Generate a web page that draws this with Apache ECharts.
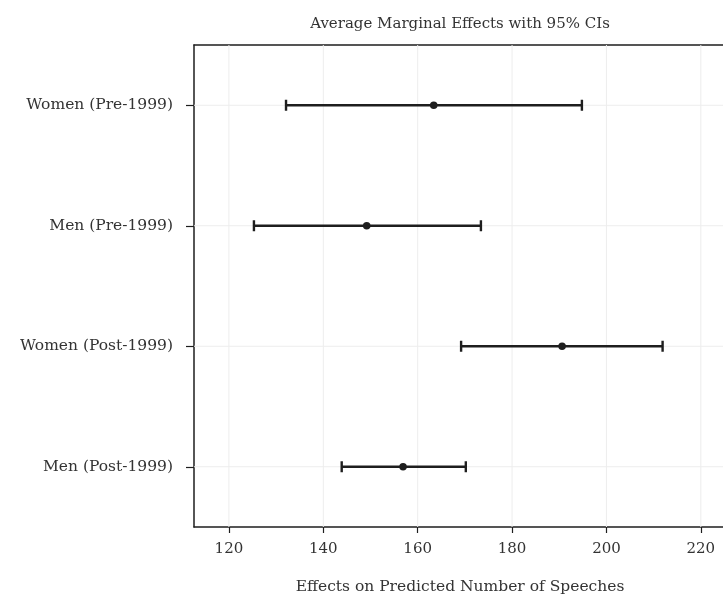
<!DOCTYPE html>
<html>
<head>
<meta charset="utf-8">
<script src="https://cdn.jsdelivr.net/npm/echarts@6/dist/echarts.min.js"></script>
<style>
  html, body { margin: 0; padding: 0; background: #fff; }
  #chart { width: 723px; height: 600px; }
</style>
</head>
<body>
<div id="chart"></div>
<script>
// Groups, top to bottom
const groups = ['Women (Pre-1999)', 'Men (Pre-1999)', 'Women (Post-1999)', 'Men (Post-1999)'];
// Average marginal effects and 95% confidence bounds
const estimate = [163.4, 149.2, 190.6, 156.9];
const lower = [132.1, 125.3, 169.2, 143.9];
const upper = [194.8, 173.4, 211.9, 170.2];
// x-axis ticks
const xTicks = [120, 140, 160, 180, 200, 220];

const FONT = 'DejaVu Serif';
const INK = '#1e1e1e';
const TEXT = '#333';

const ciData = groups.map((g, i) => [g, lower[i], upper[i]]);
const pointData = groups.map((g, i) => [estimate[i], g]);

const chart = echarts.init(document.getElementById('chart'), null, { renderer: 'canvas' });
chart.setOption({
  animation: false,
  backgroundColor: '#fff',
  title: [
    {
      text: 'Average Marginal Effects with 95% CIs',
      left: 455, top: 12, textAlign: 'center',
      textStyle: { fontFamily: FONT, fontSize: 15, fontWeight: 'normal', color: TEXT }
    },
    {
      text: 'Effects on Predicted Number of Speeches',
      left: 455, top: 574, textAlign: 'center',
      textStyle: { fontFamily: FONT, fontSize: 15.5, fontWeight: 'normal', color: TEXT }
    }
  ],
  grid: {
    left: 194, top: 45, right: 0, bottom: 73,
    show: false
  },
  xAxis: [
    {
      type: 'value',
      min: 112.6, max: 224.7,
      axisLine: { show: true, lineStyle: { color: INK, width: 1.5 } },
      axisTick: {
        show: true, length: 6, lineStyle: { color: INK, width: 1.2 },
        customValues: xTicks
      },
      axisLabel: {
        fontFamily: FONT, fontSize: 15, color: TEXT, margin: 15,
        customValues: xTicks
      },
      splitLine: { show: false }
    },
    {
      // top edge of the plot frame
      type: 'value',
      position: 'top',
      min: 112.6, max: 224.7,
      axisLine: { show: true, onZero: false, lineStyle: { color: INK, width: 1.5 } },
      axisTick: { show: false },
      axisLabel: { show: false },
      splitLine: { show: false }
    }
  ],
  yAxis: {
    type: 'category',
    data: groups,
    inverse: true,
    axisLine: { show: true, lineStyle: { color: INK, width: 1.5 } },
    axisTick: { show: true, alignWithLabel: true, length: 8, lineStyle: { color: INK, width: 1.2 } },
    axisLabel: { fontFamily: FONT, fontSize: 15.5, color: TEXT, margin: 21 },
    splitLine: { show: false }
  },
  series: [
    {
      // faint reference grid drawn behind the intervals
      type: 'custom',
      silent: true,
      z: 1,
      data: [0],
      renderItem: function (params, api) {
        const cs = params.coordSys;
        const children = [];
        xTicks.forEach(function (t) {
          const x = api.coord([t, groups[0]])[0];
          children.push({
            type: 'line',
            shape: { x1: x, y1: cs.y, x2: x, y2: cs.y + cs.height },
            style: { stroke: '#ededed', lineWidth: 1 }
          });
        });
        groups.forEach(function (g) {
          const y = api.coord([xTicks[0], g])[1];
          children.push({
            type: 'line',
            shape: { x1: cs.x, y1: y, x2: cs.x + cs.width, y2: y },
            style: { stroke: '#ededed', lineWidth: 1 }
          });
        });
        return { type: 'group', children: children };
      }
    },
    {
      // confidence intervals with end caps
      type: 'custom',
      z: 3,
      data: ciData,
      encode: { x: [1, 2], y: 0 },
      renderItem: function (params, api) {
        const cat = api.value(0);
        const lo = api.coord([api.value(1), cat]);
        const hi = api.coord([api.value(2), cat]);
        const cap = 5.5;
        const style = { stroke: INK, lineWidth: 2.4 };
        return {
          type: 'group',
          children: [
            { type: 'line', shape: { x1: lo[0], y1: lo[1], x2: hi[0], y2: hi[1] }, style: style },
            { type: 'line', shape: { x1: lo[0], y1: lo[1] - cap, x2: lo[0], y2: lo[1] + cap }, style: style },
            { type: 'line', shape: { x1: hi[0], y1: hi[1] - cap, x2: hi[0], y2: hi[1] + cap }, style: style }
          ]
        };
      }
    },
    {
      type: 'scatter',
      z: 4,
      data: pointData,
      symbol: 'circle',
      symbolSize: 7.5,
      itemStyle: { color: INK, opacity: 1 }
    }
  ]
});
</script>
</body>
</html>
